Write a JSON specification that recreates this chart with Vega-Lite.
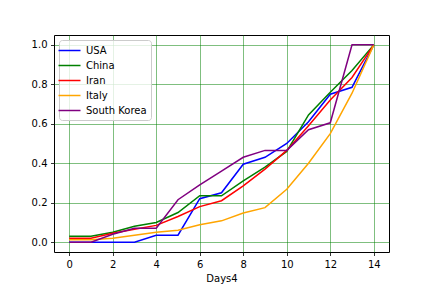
{
  "$schema": "https://vega.github.io/schema/vega-lite/v6.json",
  "width": 335,
  "height": 217,
  "autosize": {"type": "none"},
  "padding": {"left": 54, "top": 35, "right": 43, "bottom": 36},
  "background": "white",
  "config": {
    "font": "DejaVu Sans",
    "view": {"stroke": "black", "strokeWidth": 1},
    "axis": {
      "domain": false,
      "tickColor": "black",
      "tickSize": 3.5,
      "tickWidth": 0.8,
      "labelFontSize": 10,
      "labelColor": "black",
      "labelPadding": 3.5,
      "grid": true,
      "gridColor": "#008000",
      "gridOpacity": 0.5,
      "gridWidth": 1,
      "titleFontSize": 10,
      "titleFontWeight": "normal",
      "titleColor": "black"
    },
    "legend": {
      "orient": "top-left",
      "offset": 5,
      "padding": 4,
      "rowPadding": 3,
      "labelFontSize": 10,
      "labelColor": "black",
      "labelOffset": 10,
      "strokeColor": "#cccccc",
      "fillColor": "rgba(255,255,255,0.8)",
      "cornerRadius": 3,
      "symbolType": "M-2,0H2",
      "symbolSize": 121,
      "symbolStrokeWidth": 1.5
    }
  },
  "data": {
    "values": [
      {"day": 0, "country": "USA", "value": 0.0},
      {"day": 1, "country": "USA", "value": 0.0},
      {"day": 2, "country": "USA", "value": 0.0},
      {"day": 3, "country": "USA", "value": 0.0},
      {"day": 4, "country": "USA", "value": 0.035},
      {"day": 5, "country": "USA", "value": 0.035},
      {"day": 6, "country": "USA", "value": 0.22},
      {"day": 7, "country": "USA", "value": 0.25},
      {"day": 8, "country": "USA", "value": 0.395},
      {"day": 9, "country": "USA", "value": 0.43},
      {"day": 10, "country": "USA", "value": 0.5},
      {"day": 11, "country": "USA", "value": 0.61},
      {"day": 12, "country": "USA", "value": 0.75},
      {"day": 13, "country": "USA", "value": 0.785},
      {"day": 14, "country": "USA", "value": 1.0},
      {"day": 0, "country": "China", "value": 0.03},
      {"day": 1, "country": "China", "value": 0.03},
      {"day": 2, "country": "China", "value": 0.05},
      {"day": 3, "country": "China", "value": 0.08},
      {"day": 4, "country": "China", "value": 0.1},
      {"day": 5, "country": "China", "value": 0.15},
      {"day": 6, "country": "China", "value": 0.235},
      {"day": 7, "country": "China", "value": 0.235},
      {"day": 8, "country": "China", "value": 0.31},
      {"day": 9, "country": "China", "value": 0.38},
      {"day": 10, "country": "China", "value": 0.46},
      {"day": 11, "country": "China", "value": 0.645},
      {"day": 12, "country": "China", "value": 0.76},
      {"day": 13, "country": "China", "value": 0.87},
      {"day": 14, "country": "China", "value": 1.0},
      {"day": 0, "country": "Iran", "value": 0.02},
      {"day": 1, "country": "Iran", "value": 0.02},
      {"day": 2, "country": "Iran", "value": 0.045},
      {"day": 3, "country": "Iran", "value": 0.065},
      {"day": 4, "country": "Iran", "value": 0.085},
      {"day": 5, "country": "Iran", "value": 0.13},
      {"day": 6, "country": "Iran", "value": 0.18},
      {"day": 7, "country": "Iran", "value": 0.21},
      {"day": 8, "country": "Iran", "value": 0.285},
      {"day": 9, "country": "Iran", "value": 0.37},
      {"day": 10, "country": "Iran", "value": 0.465},
      {"day": 11, "country": "Iran", "value": 0.59},
      {"day": 12, "country": "Iran", "value": 0.72},
      {"day": 13, "country": "Iran", "value": 0.835},
      {"day": 14, "country": "Iran", "value": 1.0},
      {"day": 0, "country": "Italy", "value": 0.012},
      {"day": 1, "country": "Italy", "value": 0.012},
      {"day": 2, "country": "Italy", "value": 0.02},
      {"day": 3, "country": "Italy", "value": 0.035},
      {"day": 4, "country": "Italy", "value": 0.05},
      {"day": 5, "country": "Italy", "value": 0.06},
      {"day": 6, "country": "Italy", "value": 0.088},
      {"day": 7, "country": "Italy", "value": 0.108},
      {"day": 8, "country": "Italy", "value": 0.148},
      {"day": 9, "country": "Italy", "value": 0.175},
      {"day": 10, "country": "Italy", "value": 0.268},
      {"day": 11, "country": "Italy", "value": 0.4},
      {"day": 12, "country": "Italy", "value": 0.55},
      {"day": 13, "country": "Italy", "value": 0.755},
      {"day": 14, "country": "Italy", "value": 1.0},
      {"day": 0, "country": "South Korea", "value": 0.0},
      {"day": 1, "country": "South Korea", "value": 0.0},
      {"day": 2, "country": "South Korea", "value": 0.04},
      {"day": 3, "country": "South Korea", "value": 0.07},
      {"day": 4, "country": "South Korea", "value": 0.07},
      {"day": 5, "country": "South Korea", "value": 0.215},
      {"day": 6, "country": "South Korea", "value": 0.29},
      {"day": 7, "country": "South Korea", "value": 0.36},
      {"day": 8, "country": "South Korea", "value": 0.43},
      {"day": 9, "country": "South Korea", "value": 0.465},
      {"day": 10, "country": "South Korea", "value": 0.465},
      {"day": 11, "country": "South Korea", "value": 0.57},
      {"day": 12, "country": "South Korea", "value": 0.605},
      {"day": 13, "country": "South Korea", "value": 1.0},
      {"day": 14, "country": "South Korea", "value": 1.0}
    ]
  },
  "mark": {"type": "line", "strokeWidth": 1.5},
  "encoding": {
    "x": {
      "field": "day",
      "type": "quantitative",
      "scale": {"domain": [-0.7, 14.7], "nice": false, "zero": false},
      "axis": {"values": [0, 2, 4, 6, 8, 10, 12, 14], "title": "Days4", "titlePadding": 4}
    },
    "y": {
      "field": "value",
      "type": "quantitative",
      "scale": {"domain": [-0.05, 1.05], "nice": false, "zero": false},
      "axis": {"values": [0, 0.2, 0.4, 0.6, 0.8, 1.0], "format": ".1f", "title": null}
    },
    "color": {
      "field": "country",
      "type": "nominal",
      "scale": {
        "domain": ["USA", "China", "Iran", "Italy", "South Korea"],
        "range": ["#0000ff", "#008000", "#ff0000", "#ffa500", "#800080"]
      },
      "legend": {"title": null}
    },
    "order": {"field": "day", "type": "quantitative"}
  }
}
